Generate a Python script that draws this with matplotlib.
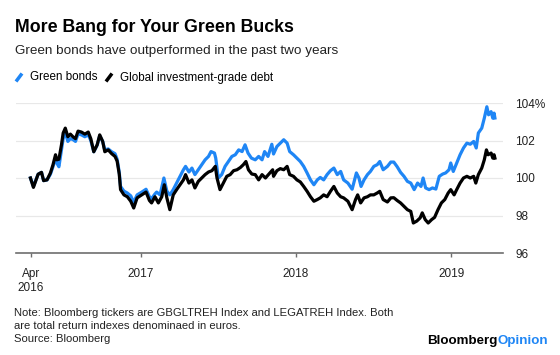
import matplotlib.pyplot as plt
from matplotlib.lines import Line2D
import pandas as pd

plt.rcParams['font.family'] = ['Liberation Sans', 'DejaVu Sans']

BLUE = '#1f86f5'

# Global investment-grade debt (LEGATREH), index level in %
global_dates = [
    '2016-04-16', '2016-04-23', '2016-05-04', '2016-05-12', '2016-05-17', '2016-05-25',
    '2016-06-02', '2016-06-08', '2016-06-14', '2016-06-17', '2016-06-22', '2016-06-28',
    '2016-07-02', '2016-07-07', '2016-07-13', '2016-07-19', '2016-07-25', '2016-07-31',
    '2016-08-06', '2016-08-14', '2016-08-22', '2016-08-30', '2016-09-05', '2016-09-12',
    '2016-09-20', '2016-09-26', '2016-10-03', '2016-10-08', '2016-10-16', '2016-10-24',
    '2016-11-01', '2016-11-06', '2016-11-11', '2016-11-14', '2016-11-22', '2016-11-30',
    '2016-12-08', '2016-12-15', '2016-12-23', '2017-01-03', '2017-01-13', '2017-01-21',
    '2017-01-26', '2017-02-03', '2017-02-11', '2017-02-19', '2017-02-25', '2017-03-03',
    '2017-03-10', '2017-03-18', '2017-03-26', '2017-04-03', '2017-04-11', '2017-04-16',
    '2017-04-24', '2017-05-01', '2017-05-08', '2017-05-16', '2017-05-24', '2017-06-01',
    '2017-06-09', '2017-06-17', '2017-06-25', '2017-06-29', '2017-07-06', '2017-07-14',
    '2017-07-22', '2017-07-30', '2017-08-07', '2017-08-15', '2017-08-23', '2017-08-30',
    '2017-09-05', '2017-09-11', '2017-09-19', '2017-09-27', '2017-10-05', '2017-10-13',
    '2017-10-21', '2017-10-28', '2017-11-07', '2017-11-09', '2017-11-17', '2017-11-25',
    '2017-12-03', '2017-12-11', '2017-12-17', '2017-12-26', '2018-01-03', '2018-01-11',
    '2018-01-19', '2018-01-27', '2018-02-04', '2018-02-12', '2018-02-20', '2018-02-27',
    '2018-03-07', '2018-03-15', '2018-03-23', '2018-03-31', '2018-04-08', '2018-04-16',
    '2018-04-23', '2018-05-03', '2018-05-13', '2018-05-21', '2018-05-26', '2018-06-02',
    '2018-06-10', '2018-06-18', '2018-06-25', '2018-07-03', '2018-07-11', '2018-07-17',
    '2018-07-25', '2018-08-04', '2018-08-12', '2018-08-19', '2018-08-27', '2018-09-04',
    '2018-09-12', '2018-09-20', '2018-09-28', '2018-10-04', '2018-10-12', '2018-10-20',
    '2018-10-25', '2018-11-01', '2018-11-08', '2018-11-16', '2018-11-23', '2018-12-01',
    '2018-12-09', '2018-12-17', '2018-12-25', '2018-12-31', '2019-01-08', '2019-01-14',
    '2019-01-22', '2019-01-30', '2019-02-07', '2019-02-15', '2019-02-23', '2019-02-28',
    '2019-03-06', '2019-03-14', '2019-03-20', '2019-03-25', '2019-03-29', '2019-04-05',
    '2019-04-09', '2019-04-12', '2019-04-14',
]
global_values = [
    100.0, 99.5, 100.2, 100.3, 99.86, 99.9,
    100.27, 100.7, 101.24, 100.97, 101.0, 101.77,
    102.4, 102.66, 102.2, 102.34, 102.2, 102.1,
    102.5, 102.45, 102.34, 102.45, 102.1, 101.4,
    101.77, 102.3, 101.95, 101.4, 101.5, 101.3,
    101.15, 100.9, 100.2, 99.38, 99.1, 99.0,
    98.76, 98.4, 98.94, 99.1, 99.25, 98.8,
    98.67, 99.0, 98.67, 99.0, 99.64, 98.94,
    98.31, 99.1, 99.38, 99.64, 99.9, 100.18,
    99.73, 99.9, 99.47, 99.82, 100.0, 100.18,
    100.32, 100.39, 100.62, 100.0, 99.38, 99.73,
    100.09, 100.18, 100.39, 100.44, 100.56, 100.71,
    100.88, 100.44, 100.21, 100.18, 99.9, 100.18,
    100.0, 100.18, 100.44, 100.09, 100.39, 100.5,
    100.44, 100.62, 100.18, 100.09, 99.9, 99.79,
    99.55, 99.29, 99.0, 98.76, 98.85, 98.94,
    99.1, 99.0, 99.29, 99.55, 99.2, 99.0,
    98.94, 98.76, 98.31, 98.85, 99.1, 98.67,
    98.94, 99.0, 99.1, 99.1, 99.2, 99.29,
    98.85, 98.72, 98.94, 98.95, 98.8, 98.67,
    98.49, 98.31, 98.22, 97.6, 97.7, 97.87,
    98.14, 97.78, 97.6, 97.78, 97.9, 98.31,
    98.67, 98.85, 99.2, 99.38, 99.1, 99.38,
    99.73, 100.0, 100.09, 100.0, 100.09, 99.73,
    100.18, 100.53, 100.97, 101.5, 101.24, 101.33,
    101.06, 101.24, 101.06,
]

# Green bonds (GBGLTREH), index level in %
green_dates = [
    '2016-04-16', '2016-04-23', '2016-05-04', '2016-05-12', '2016-05-17', '2016-05-25',
    '2016-06-02', '2016-06-08', '2016-06-14', '2016-06-17', '2016-06-22', '2016-06-28',
    '2016-07-02', '2016-07-07', '2016-07-13', '2016-07-19', '2016-07-25', '2016-07-31',
    '2016-08-06', '2016-08-14', '2016-08-22', '2016-08-30', '2016-09-05', '2016-09-12',
    '2016-09-20', '2016-09-26', '2016-10-03', '2016-10-08', '2016-10-16', '2016-10-24',
    '2016-11-01', '2016-11-06', '2016-11-11', '2016-11-14', '2016-11-22', '2016-11-30',
    '2016-12-08', '2016-12-15', '2016-12-23', '2017-01-03', '2017-01-13', '2017-01-21',
    '2017-01-26', '2017-02-03', '2017-02-07', '2017-02-15', '2017-02-24', '2017-03-03',
    '2017-03-10', '2017-03-18', '2017-03-26', '2017-04-03', '2017-04-11', '2017-04-16',
    '2017-04-24', '2017-05-01', '2017-05-08', '2017-05-16', '2017-05-24', '2017-06-01',
    '2017-06-09', '2017-06-15', '2017-06-23', '2017-06-26', '2017-07-02', '2017-07-10',
    '2017-07-18', '2017-07-26', '2017-08-03', '2017-08-11', '2017-08-19', '2017-08-27',
    '2017-09-03', '2017-09-10', '2017-09-18', '2017-09-27', '2017-10-05', '2017-10-13',
    '2017-10-19', '2017-10-27', '2017-11-05', '2017-11-09', '2017-11-17', '2017-11-25',
    '2017-12-03', '2017-12-11', '2017-12-17', '2017-12-26', '2018-01-03', '2018-01-11',
    '2018-01-19', '2018-01-27', '2018-02-04', '2018-02-12', '2018-02-20', '2018-02-27',
    '2018-03-07', '2018-03-15', '2018-03-23', '2018-03-31', '2018-04-08', '2018-04-16',
    '2018-04-23', '2018-05-03', '2018-05-13', '2018-05-23', '2018-05-29', '2018-06-03',
    '2018-06-10', '2018-06-18', '2018-06-25', '2018-07-03', '2018-07-11', '2018-07-17',
    '2018-07-25', '2018-08-04', '2018-08-12', '2018-08-19', '2018-08-27', '2018-09-04',
    '2018-09-12', '2018-09-20', '2018-09-28', '2018-10-06', '2018-10-14', '2018-10-22',
    '2018-10-27', '2018-11-02', '2018-11-10', '2018-11-18', '2018-11-26', '2018-12-04',
    '2018-12-12', '2018-12-19', '2018-12-27', '2018-12-31', '2019-01-06', '2019-01-14',
    '2019-01-22', '2019-01-30', '2019-02-07', '2019-02-15', '2019-02-23', '2019-03-01',
    '2019-03-06', '2019-03-14', '2019-03-20', '2019-03-26', '2019-03-30', '2019-04-05',
    '2019-04-09', '2019-04-12', '2019-04-14',
]
green_values = [
    100.0, 99.55, 100.2, 100.3, 99.86, 99.9,
    100.2, 100.6, 101.05, 100.8, 100.6, 101.5,
    102.1, 102.45, 101.95, 102.1, 102.05, 101.95,
    102.35, 102.3, 102.2, 102.3, 102.0, 101.4,
    101.75, 102.25, 101.95, 101.5, 101.55, 101.4,
    101.3, 101.0, 100.3, 99.55, 99.3, 99.2,
    99.05, 98.7, 99.1, 99.25, 99.4, 99.0,
    98.9, 99.15, 99.25, 99.1, 100.0, 99.3,
    99.1, 99.38, 99.73, 100.09, 100.44, 100.62,
    100.32, 100.53, 100.18, 100.44, 100.71, 100.97,
    101.15, 101.41, 101.33, 101.06, 100.0, 100.18,
    100.62, 100.88, 101.15, 101.24, 101.5, 101.41,
    101.77, 101.33, 101.06, 100.97, 101.15, 100.97,
    101.41, 101.15, 101.8, 101.28, 101.68, 101.86,
    102.04, 101.86, 101.41, 101.24, 101.06, 100.88,
    100.62, 100.27, 99.9, 99.64, 99.9, 100.03,
    99.9, 100.18, 100.39, 100.53, 100.18, 100.35,
    99.9, 99.73, 99.4, 100.27, 100.0, 99.55,
    99.9, 100.18, 100.35, 100.62, 100.71, 100.88,
    100.44, 100.62, 100.85, 100.85, 100.6, 100.3,
    100.09, 99.82, 99.73, 99.38, 99.73, 99.55,
    100.0, 99.47, 99.38, 99.47, 99.41, 100.09,
    100.21, 100.27, 100.44, 100.8, 100.35, 100.8,
    101.24, 101.6, 101.86, 101.8, 101.95, 101.6,
    102.4, 102.66, 103.19, 103.8, 103.37, 103.54,
    103.19, 103.46, 103.2,
]

tick_dates = ['2016-04-17', '2017-01-01', '2018-01-01', '2019-01-01']
tick_labels = ['Apr\n2016', '2017', '2018', '2019']
y_ticks = [96, 98, 100, 102, 104]
y_labels = ['96', '98', '100', '102', '104%']

fig = plt.figure(figsize=(5.6, 3.55), dpi=100)
ax = fig.add_axes([16 / 560, 1 - 253 / 355, 487 / 560, 150 / 355])

ax.plot(pd.to_datetime(green_dates), green_values, color=BLUE, lw=2.3,
        solid_joinstyle='round', zorder=3)
ax.plot(pd.to_datetime(global_dates), global_values, color='black', lw=2.3,
        solid_joinstyle='round', zorder=4)

ax.set_xlim(pd.Timestamp('2016-03-13'), pd.Timestamp('2019-05-03'))
ax.set_ylim(96, 104)

for sp in ['top', 'left', 'right']:
    ax.spines[sp].set_visible(False)
ax.spines['bottom'].set_color('#6e6e6e')
ax.spines['bottom'].set_linewidth(1.2)

ax.set_yticks(y_ticks)
ax.set_yticklabels(y_labels)
ax.yaxis.tick_right()
ax.tick_params(axis='y', length=0, pad=9, labelsize=8.5, labelcolor='#222222')
ax.grid(axis='y', color='#e8e8e8', lw=0.9)
ax.set_axisbelow(True)

ax.set_xticks(pd.to_datetime(tick_dates))
ax.set_xticklabels(tick_labels, linespacing=1.3)
ax.tick_params(axis='x', length=3, width=1, color='#6e6e6e', pad=7.5,
               labelsize=8.5, labelcolor='#222222')

# headings
fig.text(15 / 560, 1 - 28 / 355, 'More Bang for Your Green Bucks', fontsize=12.8,
         fontweight='bold', va='center', ha='left', color='black')
fig.text(15 / 560, 1 - 51 / 355, 'Green bonds have outperformed in the past two years',
         fontsize=9.7, va='center', ha='left', color='#222222')

# legend
for x0, color in [(16, BLUE), (106, 'black')]:
    fig.add_artist(Line2D([x0 / 560, (x0 + 6) / 560], [1 - 81.5 / 355, 1 - 73.5 / 355],
                          color=color, lw=2.5, solid_capstyle='butt'))
fig.text(30 / 560, 1 - 77.5 / 355, 'Green bonds', fontsize=8.4, va='center', ha='left')
fig.text(120 / 560, 1 - 77.5 / 355, 'Global investment-grade debt', fontsize=8.4,
         va='center', ha='left')

# footer
fig.text(14 / 560, 1 - 326 / 355,
         'Note: Bloomberg tickers are GBGLTREH Index and LEGATREH Index. Both\n'
         'are total return indexes denominaed in euros.\nSource: Bloomberg',
         fontsize=8.1, va='center', ha='left', color='#222222', linespacing=1.35)
t = fig.text(427 / 560, 1 - 341 / 355, 'Bloomberg', fontsize=9.6, fontweight='bold',
             va='center', ha='left', color='black')
fig.canvas.draw()
bb = t.get_window_extent()
fig.text(bb.x1 / fig.bbox.width, 1 - 341 / 355, 'Opinion', fontsize=9.6, fontweight='bold',
         va='center', ha='left', color=BLUE)

fig.savefig('out.png', dpi=100)
